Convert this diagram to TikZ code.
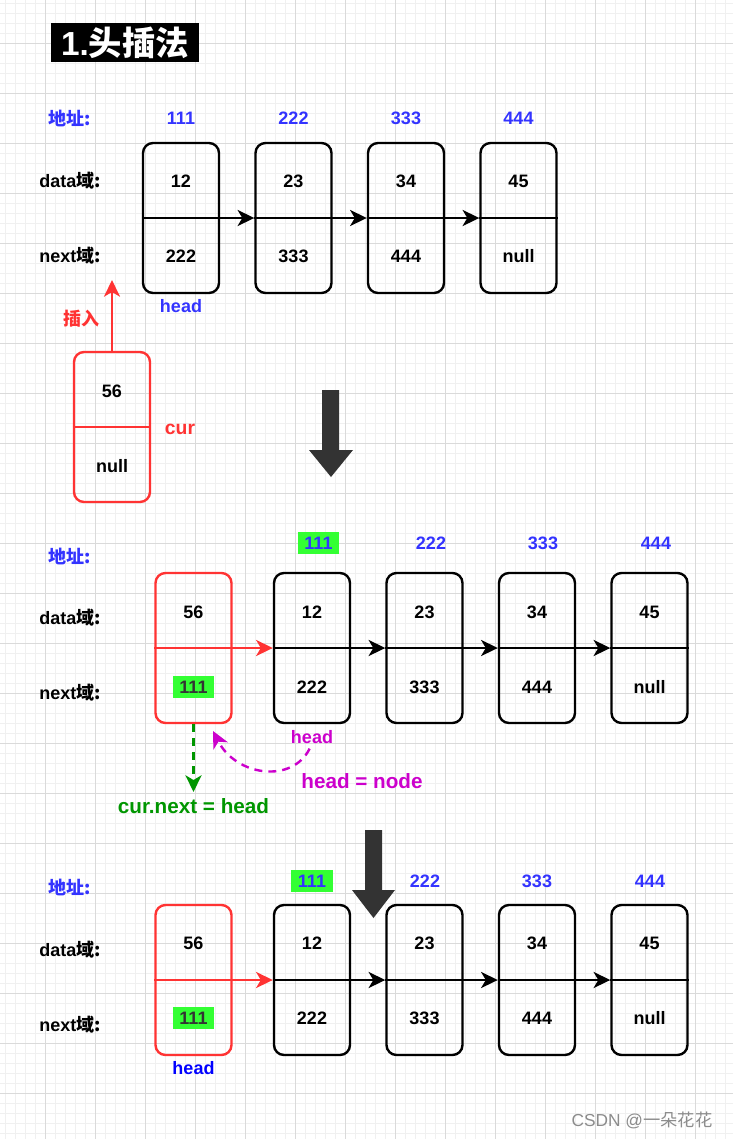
\documentclass[tikz,border=0pt]{standalone}
\usepackage{fontspec}
\setmainfont{Liberation Sans}
\newfontfamily\cjk{Noto Sans CJK SC}
\usetikzlibrary{arrows.meta}
\definecolor{cred}{RGB}{255,51,51}
\definecolor{cblue}{RGB}{51,51,255}
\definecolor{cpureblue}{RGB}{0,0,255}
\definecolor{chl}{RGB}{51,255,51}
\definecolor{cgreen}{RGB}{0,150,0}
\definecolor{cmag}{RGB}{204,0,204}
\definecolor{cdark}{RGB}{51,51,51}
\definecolor{gmajor}{RGB}{218,218,218}
\definecolor{gminor}{RGB}{240,240,240}
\definecolor{cwater}{RGB}{140,140,140}
\begin{document}
\begin{tikzpicture}[x=0.75pt,y=-0.75pt,
  box/.style={draw=black, line width=1.8pt, rounded corners=7.5pt, minimum width=57pt, minimum height=112.5pt, inner sep=0pt},
  rbox/.style={box, draw=cred},
  txt/.style={font=\fontsize{13.5}{16}\selectfont\bfseries, inner sep=0pt},
  bigtxt/.style={font=\fontsize{15.5}{18}\selectfont\bfseries, inner sep=0pt},
  addr/.style={txt, text=cblue},
  hl/.style={txt, fill=chl, minimum width=31pt, minimum height=16.5pt},
  link/.style={line width=1.8pt, -{Stealth[length=12.5pt,width=12pt,inset=3.5pt]}},
  divider/.style={line width=1.8pt},
  bigarrow/.style={fill=cdark},
  dashpat/.style={dash pattern=on 6pt off 4.5pt}
]
\useasboundingbox (0,0) rectangle (733,1139);
\fill[white] (0,0) rectangle (733,1139);
% grid
\foreach \x in {5,15,...,725} \draw[gminor, line width=0.75pt] (\x,0) -- (\x,1139);
\foreach \y in {3,13,...,1133} \draw[gminor, line width=0.75pt] (0,\y) -- (733,\y);
\foreach \x in {45,95,...,695} \draw[gmajor, line width=0.75pt] (\x,0) -- (\x,1139);
\foreach \y in {43,93,...,1093} \draw[gmajor, line width=0.75pt] (0,\y) -- (733,\y);

% title
\node[fill=black, text=white, minimum width=111pt, minimum height=29.25pt, inner sep=0pt,
      font=\fontsize{25}{29}\selectfont\bfseries] (title) at (125,42.5) {1.{\cjk 头插法}};

% ===== section 1 =====
\node[addr] (a1) at (70,118) {\cjk 地址:};
\node[txt] (d1) at (70,181) {data{\cjk 域:}};
\node[txt] (n1) at (70,256) {next{\cjk 域:}};

\node[box] (b1) at (181,218) {};
\node[box] (b2) at (293.5,218) {};
\node[box] (b3) at (406,218) {};
\node[box] (b4) at (518.5,218) {};

\node[addr] (b1a) at (181,118) {111};
\node[addr] (b2a) at (293.5,118) {222};
\node[addr] (b3a) at (406,118) {333};
\node[addr] (b4a) at (518.5,118) {444};

\node[txt] (b1d) at (181,181) {12};
\node[txt] (b2d) at (293.5,181) {23};
\node[txt] (b3d) at (406,181) {34};
\node[txt] (b4d) at (518.5,181) {45};
\node[txt] (b1n) at (181,256) {222};
\node[txt] (b2n) at (293.5,256) {333};
\node[txt] (b3n) at (406,256) {444};
\node[txt] (b4n) at (518.5,256) {null};

\draw[link] (b1.west) -- (b2.west);
\draw[link] (b2.west) -- (b3.west);
\draw[link] (b3.west) -- (b4.west);
\draw[divider] (b4.west) -- (b4.east);

\node[addr] (h1) at (181,306) {head};

\node[rbox] (c) at (112,427) {};
\draw[divider, cred] (c.west) -- (c.east);
\node[txt] (cd) at (112,391) {56};
\node[txt] (cn) at (112,466) {null};
\coordinate (ins) at (112,280);
\draw[link, cred] (c.north) -- (ins);
\node[txt, text=cred] (insl) at (81,319) {\cjk 插入};
\node[txt, text=cred, font=\fontsize{14.5}{17}\selectfont\bfseries] (curl) at (180,429) {cur};

\fill[bigarrow] (322,390) -- (339,390) -- (339,450) -- (353,450) -- (331,477) -- (309,450) -- (322,450) -- cycle;

% ===== section 2 =====
\node[addr] (a2) at (70,556) {\cjk 地址:};
\node[txt] (d2) at (70,618) {data{\cjk 域:}};
\node[txt] (n2) at (70,693) {next{\cjk 域:}};

\node[rbox] (m0) at (193.5,648) {};
\node[box] (m1) at (312,648) {};
\node[box] (m2) at (424.5,648) {};
\node[box] (m3) at (537,648) {};
\node[box] (m4) at (649.5,648) {};

\node[hl, text=cblue] (m1a) at (318.5,543) {111};
\node[addr] (m2a) at (431,543) {222};
\node[addr] (m3a) at (543,543) {333};
\node[addr] (m4a) at (656,543) {444};

\node[txt] (m0d) at (193.5,612) {56};
\node[txt] (m1d) at (312,612) {12};
\node[txt] (m2d) at (424.5,612) {23};
\node[txt] (m3d) at (537,612) {34};
\node[txt] (m4d) at (649.5,612) {45};
\node[hl, text=cdark] (m0n) at (193.5,687) {111};
\node[txt] (m1n) at (312,687) {222};
\node[txt] (m2n) at (424.5,687) {333};
\node[txt] (m3n) at (537,687) {444};
\node[txt] (m4n) at (649.5,687) {null};

\draw[link, cred] (m0.west) -- (m1.west);
\draw[link] (m1.west) -- (m2.west);
\draw[link] (m2.west) -- (m3.west);
\draw[link] (m3.west) -- (m4.west);
\draw[divider] (m4.west) -- (m4.east);

\node[txt, text=cmag] (hm) at (312,737) {head};
\coordinate (hmend) at (213,731);
\draw[link, cmag, dashpat, shorten <=4pt] (hm.south) .. controls (292,784) and (236,776) .. (hmend);
\node[bigtxt, text=cmag] (hmeq) at (362,781) {head = node};

\coordinate (gend) at (193.5,792);
\draw[link, cgreen, dashpat] (m0.south) -- (gend);
\node[bigtxt, text=cgreen] (gl) at (193.5,806) {cur.next = head};

\fill[bigarrow] (365,830) -- (382,830) -- (382,890) -- (395,890) -- (373.5,918) -- (352,890) -- (365,890) -- cycle;

% ===== section 3 =====
\node[addr] (a3) at (70,887) {\cjk 地址:};
\node[txt] (d3) at (70,950) {data{\cjk 域:}};
\node[txt] (n3) at (70,1025) {next{\cjk 域:}};

\node[rbox] (k0) at (193.5,980) {};
\node[box] (k1) at (312,980) {};
\node[box] (k2) at (424.5,980) {};
\node[box] (k3) at (537,980) {};
\node[box] (k4) at (649.5,980) {};

\node[hl, text=cblue] (k1a) at (312,881) {111};
\node[addr] (k2a) at (425,881) {222};
\node[addr] (k3a) at (537,881) {333};
\node[addr] (k4a) at (650,881) {444};

\node[txt] (k0d) at (193.5,943) {56};
\node[txt] (k1d) at (312,943) {12};
\node[txt] (k2d) at (424.5,943) {23};
\node[txt] (k3d) at (537,943) {34};
\node[txt] (k4d) at (649.5,943) {45};
\node[hl, text=cdark] (k0n) at (193.5,1018) {111};
\node[txt] (k1n) at (312,1018) {222};
\node[txt] (k2n) at (424.5,1018) {333};
\node[txt] (k3n) at (537,1018) {444};
\node[txt] (k4n) at (649.5,1018) {null};

\draw[link, cred] (k0.west) -- (k1.west);
\draw[link] (k1.west) -- (k2.west);
\draw[link] (k2.west) -- (k3.west);
\draw[link] (k3.west) -- (k4.west);
\draw[divider] (k4.west) -- (k4.east);

\node[txt, text=cpureblue] (hk) at (193.5,1068) {head};

% watermark
\node[text=cwater, inner sep=0pt, font=\fontsize{13}{15}\selectfont] (wm) at (642,1120) {CSDN @{\cjk 一朵花花}};
\end{tikzpicture}
\end{document}
